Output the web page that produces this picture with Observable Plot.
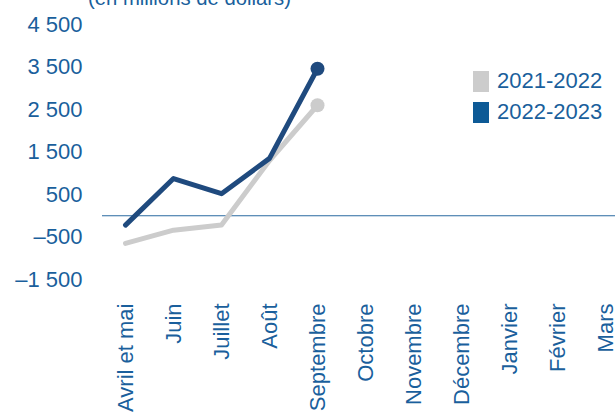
<!DOCTYPE html>
<html>
<head>
<meta charset="utf-8">
<script src="https://cdn.jsdelivr.net/npm/d3@7"></script>
<script src="https://cdn.jsdelivr.net/npm/@observablehq/plot@0.6"></script>
<style>
  html, body { margin:0; padding:0; background:#fff; overflow:hidden; }
  #wrap { position:relative; width:615px; height:413px; font-family:"Liberation Sans", Arial, sans-serif; color:#1a5f9c; }
  #title { position:absolute; left:88px; top:-12px; font-size:20.3px; line-height:21px; white-space:nowrap; }
  .leg { position:absolute; left:473px; font-size:22px; line-height:22px; white-space:nowrap; }
  .sw { position:absolute; left:0; top:0; width:16px; height:21px; }
  .lt { position:absolute; left:24px; top:-1px; }
  #chart { position:absolute; left:0; top:0; }
</style>
</head>
<body>
<div id="wrap">
  <div id="chart"></div>
  <div id="title">(en millions de dollars)</div>
  <div id="legend"></div>
</div>
<script>
const months = ["Avril et mai","Juin","Juillet","Août","Septembre","Octobre","Novembre","Décembre","Janvier","Février","Mars"];
const seriesNames = ["2021-2022","2022-2023"];
const values2122 = [-650, -340, -220, 1300, 2600];
const values2223 = [-220, 875, 520, 1350, 3460];
const yTicks = [-1500, -500, 500, 1500, 2500, 3500, 4500];
const lineColors = ["#cccccc", "#1f4a7e"];
const legendColors = ["#cccccc", "#0d5a96"];

const fmt = v => (v < 0 ? "–" : "") + String(Math.abs(v)).replace(/\B(?=(\d{3})+(?!\d))/g, " ");

const d2122 = values2122.map((v, i) => ({month: months[i], value: v}));
const d2223 = values2223.map((v, i) => ({month: months[i], value: v}));

const chart = Plot.plot({
  width: 615,
  height: 413,
  marginLeft: 102,
  marginRight: 0,
  marginTop: 24,
  marginBottom: 134,
  style: {fontFamily: "'Liberation Sans', Arial, sans-serif", fontSize: "22px", color: "#1a5f9c", background: "white", overflow: "visible"},
  x: {type: "point", domain: months, padding: 0, insetLeft: 23, insetRight: 10},
  y: {domain: [-1500, 4500]},
  marks: [
    Plot.axisY({ticks: yTicks, tickSize: 0, tickPadding: 20, tickFormat: fmt, label: null, fill: "#1a5f9c"}),
    Plot.axisX({tickSize: 0, tickRotate: -90, tickPadding: 24, label: null, fill: "#1a5f9c"}),
    Plot.ruleY([0], {stroke: "#2a6aa0", strokeWidth: 1.2}),
    Plot.line(d2122, {x: "month", y: "value", stroke: lineColors[0], strokeWidth: 5}),
    Plot.dot(d2122.slice(-1), {x: "month", y: "value", fill: lineColors[0], r: 7}),
    Plot.line(d2223, {x: "month", y: "value", stroke: lineColors[1], strokeWidth: 5}),
    Plot.dot(d2223.slice(-1), {x: "month", y: "value", fill: lineColors[1], r: 7})
  ]
});
document.getElementById("chart").appendChild(chart);

const legend = document.getElementById("legend");
const legTops = [71, 102];
seriesNames.forEach((name, i) => {
  const row = document.createElement("div");
  row.className = "leg";
  row.style.top = legTops[i] + "px";
  row.innerHTML = `<div class="sw" style="background:${legendColors[i]}"></div><div class="lt">${name}</div>`;
  legend.appendChild(row);
});
</script>
</body>
</html>
